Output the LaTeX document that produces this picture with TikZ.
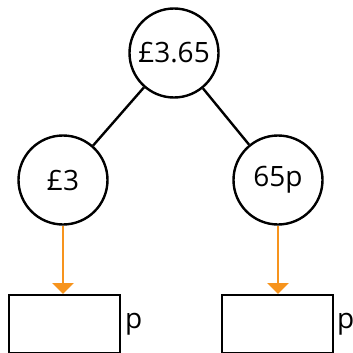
\documentclass[tikz,border=0pt]{standalone}
\usepackage{fontspec}
\setmainfont{Open Sans}
\usetikzlibrary{arrows.meta}
\definecolor{arroworange}{HTML}{F7941D}
\tikzset{
    amount/.style={circle, draw, line width=2.4pt, minimum size=89pt, inner sep=0pt, font=\fontsize{28}{32}\selectfont},
    answerbox/.style={draw, line width=2pt, minimum width=111pt, minimum height=58pt, inner sep=0pt},
    unit/.style={font=\fontsize{28}{32}\selectfont, inner sep=0pt},
    partline/.style={line width=2.4pt},
    convert/.style={arroworange, line width=2.4pt, -{Triangle[width=21pt,length=11pt]}}
}
\begin{document}
\begin{tikzpicture}[x=1pt,y=-1pt]
                \useasboundingbox (0,0) rectangle (353,353);
                \node[amount] (whole) at (174,53) {£3.65};
                \node[amount] (pounds) at (63,180) {£3};
                \node[amount] (pence) at (278,180) {65p};
                \draw[partline](whole)--(pounds);
                \draw[partline](whole)--(pence);
                \node[answerbox] (leftbox) at (64,324) {};
                \node[answerbox] (rightbox) at (277.5,324) {};
                \node[unit, anchor=west] (leftp) at (125,324) {p};
                \node[unit, anchor=west] (rightp) at (337,324) {p};
                \draw[convert](pounds.south)--(pounds.south |- leftbox.north);
                \draw[convert](pence.south)--(pence.south |- rightbox.north);
            \end{tikzpicture}
\end{document}
